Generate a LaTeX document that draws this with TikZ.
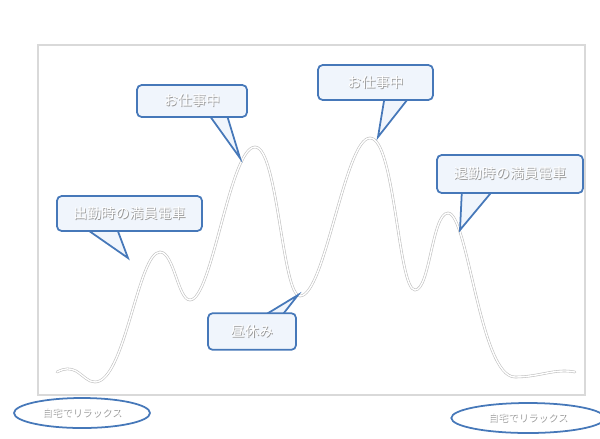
\documentclass[tikz,border=0pt]{standalone}
\usepackage{fontspec}
\newfontfamily\jp{Noto Sans CJK JP}
\usetikzlibrary{shapes.geometric}
\definecolor{callblue}{RGB}{70,120,185}
\definecolor{callfill}{RGB}{240,245,252}
\newcommand{\glow}[1]{\makebox[0pt][l]{\hspace{0.7pt}\raisebox{-0.7pt}{\color{black!40}#1}}#1}
\tikzset{
  callout/.style={draw=callblue, line width=1.5pt, rounded corners=4pt, fill=callfill,
    minimum height=1.05cm, inner xsep=6pt, font=\jp\fontsize{12}{12}\selectfont, text=white},
  tail/.style={draw=callblue, line width=1.5pt, fill=callfill, line join=miter},
  relax/.style={draw=callblue, line width=1.5pt, ellipse, fill=white,
    font=\jp\fontsize{8.5}{8.5}\selectfont, text=white}
}
\begin{document}
\begin{tikzpicture}[x=0.03cm, y=-0.03cm]
  \useasboundingbox (0,0) rectangle (600,438);
  % frame
  \draw[black!15, line width=1.2pt] (38,45) rectangle (585,395);
  % curve
  \def\daycurve{(57,372) .. controls (65,368) and (70,368) .. (76,371)
    .. controls (84,376) and (88,382) .. (95,382)
    .. controls (125,382) and (138,252) .. (160,252)
    .. controls (174,252) and (178,300) .. (190,300)
    .. controls (212,300) and (230,147) .. (255,147)
    .. controls (278,147) and (282,296) .. (300,296)
    .. controls (325,296) and (345,138) .. (370,138)
    .. controls (395,138) and (398,290) .. (415,290)
    .. controls (430,290) and (432,213) .. (448,213)
    .. controls (468,213) and (480,377) .. (515,377)
    .. controls (540,377) and (555,368) .. (575,372)}
  \draw[black!25, line width=2.2pt, line cap=round] \daycurve;
  \draw[white, line width=1.2pt, line cap=round] \daycurve;
  % tips of the callouts
  \coordinate (commuteTip) at (128,258);
  \coordinate (workTipA) at (240,158);
  \coordinate (lunchTip) at (298,295);
  \coordinate (workTipB) at (378,137);
  \coordinate (homeTip) at (460,230);
  % tails
  \draw[tail] (82,226) -- (commuteTip) -- (116,226);
  \draw[tail] (207,112) -- (workTipA) -- (226,112);
  \draw[tail] (260,318) -- (lunchTip) -- (280,318);
  \draw[tail] (385,95) -- (workTipB) -- (411,95);
  \draw[tail] (462,188) -- (homeTip) -- (495,188);
  % boxes
  \node[callout, minimum width=4.35cm] (commute) at (129.5,213.5) {\glow{出勤時の満員電車}};
  \node[callout, minimum width=3.3cm, minimum height=0.96cm] (workA) at (192,101) {\glow{お仕事中}};
  \node[callout, minimum width=2.64cm, minimum height=1.1cm] (lunch) at (252,331.5) {\glow{昼休み}};
  \node[callout, minimum width=3.45cm] (workB) at (375.5,82.5) {\glow{お仕事中}};
  \node[callout, minimum width=4.38cm, minimum height=1.14cm] (home) at (510,174) {\glow{退勤時の満員電車}};
  % relax at home
  \node[relax, minimum width=4.08cm, minimum height=0.9cm] (homeL) at (82,413) {\glow{自宅でリラックス}};
  \node[relax, minimum width=4.6cm, minimum height=0.9cm] (homeR) at (528,418) {\glow{自宅でリラックス}};
\end{tikzpicture}
\end{document}
